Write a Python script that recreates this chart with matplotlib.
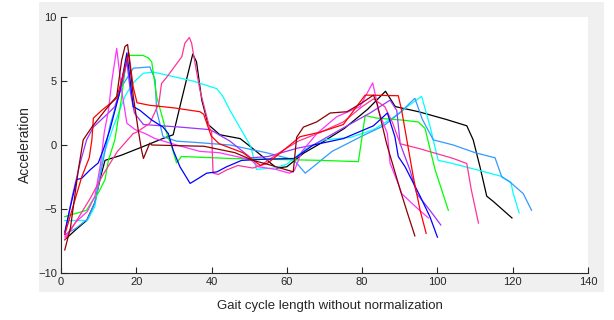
import matplotlib
matplotlib.use('Agg')
import matplotlib.pyplot as plt
from matplotlib.patches import Rectangle

plt.rcParams['font.family'] = ['Liberation Sans', 'DejaVu Sans']

# gait cycles (x = sample index, y = acceleration)
black_x = [1, 4, 6.8, 9, 10.5, 11.7, 16, 22, 27, 29.8, 32, 35, 36, 37.4, 39.1, 42.2, 47.6, 50.2, 57.3, 60, 64.4, 68.8, 75.3, 81.5, 86.2, 88.8, 95, 102.3, 107.8, 109.5, 111.3, 113.1, 114.8, 117.5, 119.8]
black_y = [-7.4, -6.6, -5.9, -4.5, -2.5, -1.2, -0.8, -0.1, 0.5, 0.8, 3.5, 7.1, 6.5, 3.5, 1.6, 0.8, 0.5, -0.1, -1.8, -1.7, -0.65, 0.1, 1.3, 2.8, 4.2, 3.0, 2.6, 2.0, 1.5, 0.4, -1.7, -4.0, -4.4, -5.1, -5.7]

cyan_x = [1, 7, 9, 11, 14, 17, 19, 21.8, 24.5, 35, 41.4, 43, 44.9, 50.4, 51.9, 56.6, 60, 65, 70, 77, 83, 88, 92, 95.8, 98, 100.2, 103.4, 110, 117, 119.5, 120.1, 121.7]
cyan_y = [-5.9, -5.9, -4.8, -1.0, 1.5, 3.8, 4.8, 5.6, 5.7, 5.0, 4.4, 3.8, 2.7, -0.1, -1.9, -1.8, -1.5, -0.3, 0.4, 0.6, 1.2, 2.1, 3.0, 3.8, 1.5, -1.2, -1.4, -1.9, -2.45, -2.9, -3.75, -5.3]

dodger_x = [1, 4, 7, 9, 11, 13, 16, 19.2, 23.6, 25, 25.4, 27.1, 30.7, 35.8, 44.9, 54.5, 61.8, 64.9, 67, 72, 80, 85.7, 90, 94, 96, 98.9, 104.2, 110, 115.3, 117.1, 119.3, 122.8, 125]
dodger_y = [-7.0, -6.5, -5.8, -4.5, -1.5, 1.5, 4.5, 6.0, 6.1, 5.1, 2.7, 0.65, 0.3, 0.2, 0.0, -0.6, -1.15, -2.2, -1.7, -0.5, 0.7, 1.5, 2.5, 3.65, 2.0, 0.4, 0.0, -0.6, -1.0, -2.5, -2.9, -3.8, -5.1]

green_x = [1, 6.8, 8.2, 9.9, 11.7, 12.6, 14.3, 16, 17.5, 21.8, 23.2, 24.1, 25.4, 28.1, 29.4, 30.7, 32, 44.9, 68.8, 79, 80.8, 83.9, 90.5, 94.9, 96.7, 99.4, 102.9]
green_y = [-5.6, -5.1, -4.4, -3.75, -2.7, -1.2, 0.4, 3.5, 7.0, 7.0, 6.8, 6.5, 3.8, 0.9, -0.1, -1.4, -0.9, -1.05, -1.2, -1.3, 2.3, 2.1, 1.95, 1.8, 1.3, -1.95, -5.1]

red_x = [1, 3, 5.5, 7.5, 8.2, 8.6, 10.8, 14.8, 16.5, 18, 19.2, 20.2, 23.6, 30, 36.9, 37.9, 39.9, 42, 48.3, 53, 55, 60, 63.5, 68.8, 75, 80.8, 89.6, 90.5, 93.6, 95.4, 97]
red_y = [-7.0, -5.0, -2.5, -1.0, 0.4, 2.1, 2.7, 3.65, 5.5, 7.2, 4.5, 3.3, 3.1, 2.9, 2.6, 2.4, 0.7, 0.1, -0.6, -1.6, -1.4, -0.2, 0.65, 1.0, 1.6, 3.9, 3.85, 2.7, -2.5, -5.1, -6.9]

blue_x = [1, 2.5, 4.2, 5.5, 7.7, 9.9, 11.2, 13, 15.5, 17.5, 19.2, 21, 24.1, 27.1, 28.5, 29.8, 31.6, 34.3, 36, 38.7, 41.4, 44, 48, 55, 62, 67, 75, 83, 86.7, 88.7, 89.6, 91.4, 95.4, 98, 100]
blue_y = [-6.8, -4.8, -2.7, -2.6, -1.95, -1.4, -0.4, 1.2, 4.0, 7.2, 3.0, 2.7, 1.95, 1.4, 0.9, -0.4, -1.7, -3.0, -2.7, -2.2, -2.1, -1.7, -1.2, -1.1, -1.05, 0.0, 0.5, 1.5, 2.5, 0.65, -0.9, -1.7, -4.0, -5.6, -7.2]

purple_x = [1, 3, 5, 6.8, 8.6, 12.6, 14.3, 16, 17.5, 18.5, 19.5, 21.9, 31.6, 39.6, 44.9, 50.4, 55, 62.8, 67, 74.2, 82.1, 87.4, 89.2, 90.1, 92.7, 94.5, 98, 100.9]
purple_y = [-7.0, -4.0, -1.5, 0.4, 1.4, 2.5, 3.0, 4.5, 6.5, 4.0, 2.5, 1.6, 1.4, 1.2, 0.3, -1.0, -0.9, -0.25, 0.0, 1.2, 2.5, 3.5, 2.7, 0.1, -1.95, -3.8, -5.1, -6.25]

magenta_x = [1, 4, 7, 9, 10.5, 11.5, 12.6, 13.5, 14.8, 16.1, 17.5, 19.7, 22.3, 25, 30.7, 36.9, 42, 50.4, 52.4, 57, 60.7, 62, 64, 68, 73.2, 79.4, 82.8, 83.6, 84.3, 86.7, 87.4, 89.8, 90.5, 94.5, 97.6]
magenta_y = [-7.2, -6.0, -5.2, -4.0, -1.5, 1.0, 2.7, 5.0, 7.55, 4.3, 1.7, 1.2, 0.9, 0.5, 0.0, -0.5, -0.6, -1.15, -1.7, -1.9, -2.2, -2.0, -0.5, 0.9, 2.2, 3.0, 4.85, 3.8, 2.7, 0.9, -1.4, -3.2, -3.8, -4.9, -5.7]

pink_x = [1, 5, 7.7, 11.2, 15, 19.2, 20.1, 23.6, 26, 26.7, 28.1, 32.1, 32.9, 34.1, 34.7, 35.6, 36.9, 39.6, 40, 40.4, 41.8, 44, 47, 51, 53, 58, 63, 69, 75, 80, 83, 86, 88, 90.1, 95.4, 104.2, 107.8, 109, 110.9]
pink_y = [-7.4, -5.5, -4.2, -2.3, -0.5, 0.9, 1.0, 1.7, 3.25, 4.8, 5.3, 6.9, 7.95, 8.4, 7.95, 6.4, 4.3, 1.2, 1.1, -2.2, -2.3, -1.95, -1.6, -1.8, -1.6, -0.6, 0.3, 1.0, 1.8, 3.0, 3.6, 3.0, 1.8, 0.1, -0.3, -1.05, -1.45, -3.5, -6.1]

maroon_x = [1, 2.5, 4.6, 5.9, 8.2, 11.7, 14.8, 16.1, 17, 17.7, 19.2, 20.5, 21.4, 21.9, 23.6, 24.1, 38, 46.2, 51, 56, 61.7, 62.6, 64.4, 67.9, 71.5, 76, 80, 83, 84, 86.5, 90.1, 91.8, 94]
maroon_y = [-8.2, -6.5, -1.95, 0.4, 1.4, 2.7, 3.8, 6.6, 7.7, 7.85, 3.8, 1.2, -0.4, -1.05, 0.15, 0.0, -0.1, -0.6, -1.2, -1.6, -2.1, 0.6, 1.4, 1.8, 2.5, 2.6, 3.3, 3.9, 3.2, 0.1, -3.5, -5.1, -7.1]

series = [
    (black_x, black_y, '#000000'),
    (cyan_x, cyan_y, '#00ffff'),
    (dodger_x, dodger_y, '#3399ff'),
    (green_x, green_y, '#00ff00'),
    (purple_x, purple_y, '#9933ff'),
    (magenta_x, magenta_y, '#ff33ff'),
    (pink_x, pink_y, '#ff3399'),
    (blue_x, blue_y, '#0000ff'),
    (red_x, red_y, '#ff0000'),
    (maroon_x, maroon_y, '#8b0000'),
]

fig = plt.figure(figsize=(6.14, 3.2), dpi=100, facecolor='white')
# matlab style grey figure background, behind the axes
bg = Rectangle((39 / 614, 28 / 320), 565 / 614, 290 / 320,
               transform=fig.transFigure, facecolor='#f0f0f0',
               edgecolor='none', zorder=-10)
fig.patches.append(bg)

ax = fig.add_axes([61 / 614, 47 / 320, 527 / 614, 256 / 320])
ax.set_zorder(5)
ax.set_facecolor('white')
for x, y, c in series:
    ax.plot(x, y, color=c, linewidth=0.9)

ax.set_xlim(0, 140)
ax.set_ylim(-10, 10)
ax.set_xticks(range(0, 141, 20))
ax.set_yticks([-10, -5, 0, 5, 10])
ax.spines['top'].set_visible(False)
ax.spines['right'].set_visible(False)
for s in ['left', 'bottom']:
    ax.spines[s].set_linewidth(0.8)
    ax.spines[s].set_color('#262626')
ax.tick_params(direction='in', length=4, width=0.8, colors='#262626',
               labelsize=8, pad=3)

ax.set_xlabel('Gait cycle length without normalization', fontsize=9.5, color='#262626')
ax.set_ylabel('Acceleration', fontsize=10, color='#262626')
ax.xaxis.set_label_coords(0.51, -0.105)
ax.yaxis.set_label_coords(-0.055, 0.5)

fig.savefig('out.png', dpi=100, facecolor='white')
